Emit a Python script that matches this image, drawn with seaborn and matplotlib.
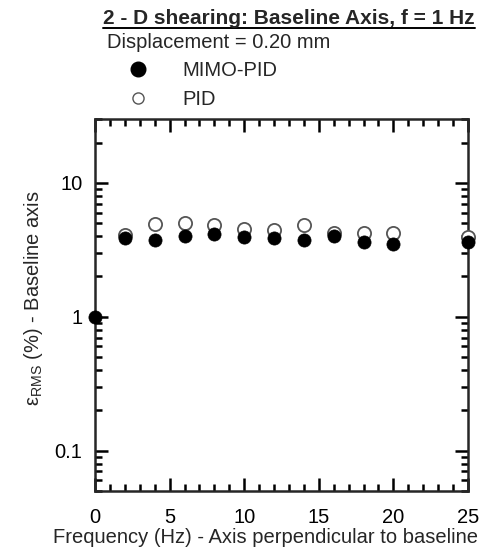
import numpy as np
import pandas as pd
import seaborn as sns
import matplotlib
matplotlib.use("Agg")
import matplotlib.pyplot as plt
from matplotlib.ticker import MultipleLocator, LogLocator, FixedLocator, NullFormatter
from matplotlib.lines import Line2D

# Frequency of the perpendicular axis (Hz) and RMS error on the baseline axis (%)
freq_mimo = [0, 2, 4, 6, 8, 10, 12, 14, 16, 18, 20, 25]
err_mimo = [1.0, 3.88, 3.74, 4.03, 4.17, 3.92, 3.88, 3.76, 4.03, 3.64, 3.50, 3.59]
freq_pid = [2, 4, 6, 8, 10, 12, 14, 16, 18, 20, 25]
err_pid = [4.10, 4.92, 5.06, 4.81, 4.54, 4.41, 4.81, 4.22, 4.20, 4.26, 3.94]
x_ticks = [0, 5, 10, 15, 20, 25]
y_ticks = [0.1, 1, 10]
y_tick_labels = ["0.1", "1", "10"]

FS = 14.5

sns.set_style("ticks")
plt.rcParams["font.family"] = ["Liberation Sans", "DejaVu Sans"]
plt.rcParams["mathtext.fontset"] = "custom"
plt.rcParams["mathtext.rm"] = "Liberation Sans"
plt.rcParams["mathtext.it"] = "Liberation Sans"

fig = plt.figure(figsize=(4.89, 5.53), dpi=100)
ax = fig.add_axes([95 / 489, 62 / 553, 373 / 489, 372 / 553])

df_mimo = pd.DataFrame({"f": freq_mimo, "e": err_mimo})
df_pid = pd.DataFrame({"f": freq_pid, "e": err_pid})

sns.scatterplot(data=df_pid, x="f", y="e", ax=ax, marker="o", s=90,
                facecolor="white", edgecolor="#555555", linewidth=1.3,
                zorder=3, clip_on=False)
sns.scatterplot(data=df_mimo, x="f", y="e", ax=ax, marker="o", s=90,
                color="black", edgecolor="black", linewidth=0.5,
                zorder=4, clip_on=False)

ax.set_yscale("log")
ax.set_xlim(0, 25)
ax.set_ylim(0.05, 30)

ax.xaxis.set_major_locator(FixedLocator(x_ticks))
ax.xaxis.set_minor_locator(MultipleLocator(1))
ax.set_xticklabels([str(t) for t in x_ticks])
ax.yaxis.set_major_locator(FixedLocator(y_ticks))
ax.set_yticklabels(y_tick_labels)
ax.yaxis.set_minor_locator(LogLocator(base=10, subs=np.arange(2, 10)))
ax.yaxis.set_minor_formatter(NullFormatter())

for s in ax.spines.values():
    s.set_linewidth(1.8)
    s.set_visible(True)
ax.tick_params(which="both", direction="in", top=True, right=True,
               width=1.8, labelsize=FS, colors="black")
ax.tick_params(which="major", length=9.5)
ax.tick_params(which="minor", length=5)
ax.tick_params(axis="x", which="major", pad=12)
ax.tick_params(axis="y", which="major", pad=9)

ax.set_xlabel("Frequency (Hz) - Axis perpendicular to baseline",
              fontsize=FS, labelpad=1)
ax.xaxis.label.set_x(0.456)
ax.set_ylabel(r"$\mathregular{\epsilon_{RMS}}$ (%) - Baseline axis",
              fontsize=FS, labelpad=7)
ax.yaxis.label.set_y(0.519)

# Header block: underlined title, displacement note and legend
title = fig.text(475 / 489, 1 - 18 / 553, "2 - D shearing: Baseline Axis, f = 1 Hz",
                 ha="right", va="center", fontsize=15, fontweight="bold")
fig.canvas.draw()
bb = title.get_window_extent().transformed(fig.transFigure.inverted())
fig.add_artist(Line2D([bb.x0, bb.x1], [bb.y0 - 0.001, bb.y0 - 0.001],
                      transform=fig.transFigure, color="black", lw=1.4))
fig.text(107 / 489, 1 - 43 / 553, "Displacement = 0.20 mm",
         ha="left", va="center", fontsize=FS)

handles = [
    Line2D([], [], marker="o", ls="none", ms=10.5, mfc="black", mec="black"),
    Line2D([], [], marker="o", ls="none", ms=8, mfc="white", mec="#555555", mew=1.0),
]
fig.legend(handles, ["MIMO-PID", "PID"], loc="upper left",
           bbox_to_anchor=(123 / 489, 1 - 61 / 553), frameon=False,
           fontsize=FS, handletextpad=1.45, labelspacing=0.5,
           handlelength=1.5, borderpad=0, borderaxespad=0)

fig.savefig("out.png", dpi=100)
